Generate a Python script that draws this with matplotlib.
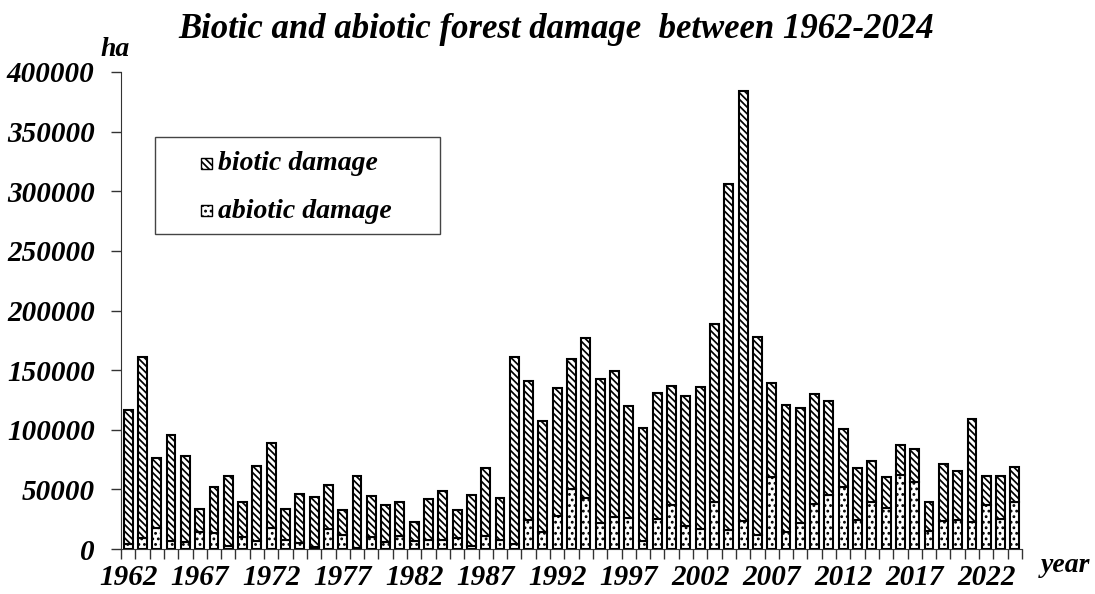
import matplotlib
matplotlib.use("Agg")
import matplotlib.pyplot as plt
from matplotlib.patches import Rectangle
import numpy as np

years = list(range(1962, 2025))
total = [116600, 161000, 76400, 95700, 78000, 33500, 52000, 60800, 39600, 69500,
         89200, 33500, 46000, 43500, 53800, 32300, 60800, 44400, 37300, 39800,
         22800, 42000, 49000, 32300, 45400, 67800, 43000, 161000, 140900, 107600,
         134800, 159000, 176600, 142800, 149500, 120200, 101800, 130600, 136400, 128300,
         135800, 189000, 305800, 383900, 178000, 139400, 120800, 118000, 129700, 124100,
         101000, 68300, 74200, 60300, 87300, 83700, 39000, 71400, 65000, 109000,
         61400, 61400, 69100]
abiotic = [4200, 9500, 17300, 6700, 5500, 14500, 13400, 2200, 9700, 6700,
           18000, 7200, 5000, 2000, 17000, 12000, 1000, 9700, 5500, 11100,
           6700, 7200, 7200, 8900, 2200, 10500, 7800, 4400, 24300, 14500,
           27900, 50700, 42400, 21800, 26500, 25600, 6400, 24800, 36800, 18900,
           16400, 39000, 15600, 23100, 11400, 60000, 13900, 22000, 37700, 45200,
           52400, 24300, 39600, 34800, 62200, 56600, 14700, 23700, 24300, 22600,
           37000, 25100, 39800]
biotic = [t - a for t, a in zip(total, abiotic)]
tick_years = list(range(1962, 2025, 5))
yticks = list(range(0, 400001, 50000))

plt.rcParams['hatch.linewidth'] = 1.25
font = dict(family='Liberation Serif', weight='bold', style='italic')
H_BIO = '\\' * 5
H_ABIO = '...'

W, H = 1095, 594
fig = plt.figure(figsize=(W / 100, H / 100), dpi=100)
ax = fig.add_axes([121 / W, (H - 549) / H, (1022 - 121) / W, (549 - 72) / H])

x = np.arange(len(years))
bw = 0.62
b1 = ax.bar(x, abiotic, width=bw, color='white', edgecolor='black', hatch=H_ABIO,
            linewidth=1.5, label='abiotic damage')
b2 = ax.bar(x, biotic, width=bw, bottom=abiotic, color='white', edgecolor='black',
            hatch=H_BIO, linewidth=1.5, label='biotic damage')

ax.set_xlim(-0.5, len(years) - 0.5)
ax.set_ylim(0, 400000)
for s in ['top', 'right']:
    ax.spines[s].set_visible(False)
ax.spines['left'].set_color('#333333')
ax.spines['bottom'].set_color('#333333')

ax.set_yticks(yticks)
ax.set_yticklabels([str(v) for v in yticks], fontsize=21, **font)
ax.tick_params(axis='y', direction='out', length=7, width=1, pad=12, color='#333333')

ax.set_xticks([years.index(y) for y in tick_years])
ax.set_xticklabels([str(y) for y in tick_years], fontsize=21, **font)
ax.set_xticks(np.arange(-0.5, len(years), 1.0), minor=True)
ax.tick_params(axis='x', which='major', length=0, pad=11)
ax.tick_params(axis='x', which='minor', direction='out', length=7, width=1, color='#333333')

fig.text(556 / W, 1 - 30 / H, 'Biotic and abiotic forest damage  between 1962-2024',
         ha='center', va='center', fontsize=25, **font)
fig.text(115 / W, 1 - 50 / H, 'ha', ha='center', va='center', fontsize=20, **font)
fig.text(1065 / W, 1 - 565 / H, 'year', ha='center', va='center', fontsize=20, **font)

# legend frame (pixel coords -> figure fraction)
fig.add_artist(Rectangle((155 / W, 1 - 234 / H), (440 - 155) / W, (234 - 137) / H,
                         transform=fig.transFigure, facecolor='white',
                         edgecolor='#444444', linewidth=1.0, zorder=5))
entries = [(b2, 'biotic damage', 163, H_BIO), (b1, 'abiotic damage', 211, H_ABIO)]
for handle, lab, yc, hh in entries:
    s = 11
    fig.add_artist(Rectangle((201 / W, 1 - (yc + s / 2) / H), s / W, s / H,
                             transform=fig.transFigure, facecolor='white',
                             edgecolor='black', hatch=hh, linewidth=1.0, zorder=6))
    fig.text(218 / W, 1 - yc / H, lab, ha='left', va='center', fontsize=20,
             zorder=7, **font)

fig.savefig('out.png', dpi=100)
